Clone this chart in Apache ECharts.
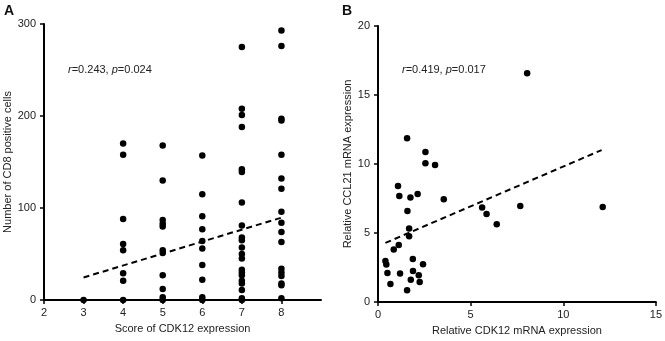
<!DOCTYPE html>
<html>
<head>
<meta charset="utf-8">
<script src="https://cdn.jsdelivr.net/npm/echarts@6/dist/echarts.min.js"></script>
<style>
	html,body{margin:0;padding:0;background:#fff;}
	#main{width:665px;height:341px;}
</style>
</head>
<body>
<div id="main"></div>
<script>
// panel A: score of CDK12 vs number of CD8 positive cells
var aScore=[3,
	4,4,4,4,4,4,4,4,
	5,5,5,5,5,5,5,5,5,5,5,
	6,6,6,6,6,6,6,6,6,6,
	7,7,7,7,7,7,7,7,7,7,7,7,7,7,7,7,7,7,7,7,7,
	8,8,8,8,8,8,8,8,8,8,8,8,8,8,8,8,8];
var aCells=[0,
	170,158,88,61,54,29,21,0,
	168,130,87,83,80,54,51,27,12,3,0,
	157,115,91,77,64,56,38,22,3,0,
	275,208,201,188,142,139,106,81,68,65,57,50,45,33,30,27,21,18,11,2,0,
	293,276,197,195,158,132,121,96,84,74,63,34,30,26,18,16,2];
var aFitX=[3,8];
var aFitY=[24.5,89.5];
var aTicks=[2,3,4,5,6,7,8];
var aNote=['0.243','0.024'];

// panel B: relative CDK12 vs CCL21 mRNA
var bCdk12=[8.05,1.57,2.56,2.56,3.08,1.08,1.15,1.75,2.14,3.55,1.59,5.62,5.86,6.41,7.68,12.13,
	1.68,1.68,1.12,0.85,0.40,0.45,0.51,0.67,1.19,1.88,1.89,2.43,2.20,1.77,2.25,1.57];
var bCcl21=[16.57,11.86,10.87,10.05,9.93,8.41,7.68,7.58,7.83,7.44,6.59,6.84,6.38,5.63,6.96,6.88,
	5.32,4.76,4.13,3.80,2.97,2.71,2.10,1.30,2.06,3.12,2.25,2.73,1.93,1.62,1.45,0.85];
var bFitX=[0.4,12.07];
var bFitY=[4.28,11.01];
var bNote=['0.419','0.017'];

var font='Liberation Sans';
var txtColor='#222';

function pairs(xs,ys){
	var out=[];
	for(var i=0;i<xs.length;i++){
		out.push([xs[i],ys[i]]);
	}
	return out;
}

function axisStyle(o){
	o.axisLine={show:true,onZero:false,lineStyle:{color:'#000',width:2}};
	o.axisTick=o.axisTick||{};
	o.axisTick.show=true;
	o.axisTick.length=4;
	o.axisTick.lineStyle={color:'#000',width:1.5};
	o.axisLabel=o.axisLabel||{};
	o.axisLabel.color=txtColor;
	o.axisLabel.fontSize=11;
	o.axisLabel.fontFamily=font;
	o.splitLine={show:false};
	o.nameLocation='middle';
	o.nameTextStyle={color:txtColor,fontSize:11,fontFamily:font};
	return o;
}

function note(left,vals){
	return {
		type:'text',left:left,top:64,
		style:{
			text:'{i|r}=' + vals[0] + ', {i|p}=' + vals[1],
			fill:txtColor,font:'11px "Liberation Sans"',
			rich:{i:{fontStyle:'italic',fontSize:11,fontFamily:font,fill:txtColor}}
		}
	};
}

var myChart=echarts.init(document.getElementById('main'));
var option={
	backgroundColor:'#fff',
	animation:false,
	grid:[
		{left:44,top:24,width:277,height:276},
		{left:378,top:26,width:278,height:276}
	],
	xAxis:[
		axisStyle({gridIndex:0,type:'value',min:2,max:9,interval:1,name:'Score of CDK12 expression',nameGap:23,
			axisTick:{customValues:aTicks},axisLabel:{customValues:aTicks,margin:7}}),
		axisStyle({gridIndex:1,type:'value',min:0,max:15,interval:5,name:'Relative CDK12 mRNA expression',nameGap:23,
			axisLabel:{margin:7}})
	],
	yAxis:[
		axisStyle({gridIndex:0,type:'value',min:0,max:300,interval:100,name:'Number of CD8 positive cells',nameGap:28}),
		axisStyle({gridIndex:1,type:'value',min:0,max:20,interval:5,name:'Relative CCL21 mRNA expression',nameGap:24})
	],
	graphic:[
		{type:'text',left:4,top:4,style:{text:'A',fill:'#111',font:'bold 14px "Liberation Sans"'}},
		{type:'text',left:342,top:4,style:{text:'B',fill:'#111',font:'bold 14px "Liberation Sans"'}},
		note(68,aNote),
		note(402,bNote)
	],
	series:[
		{type:'scatter',xAxisIndex:0,yAxisIndex:0,data:pairs(aScore,aCells),symbolSize:6.5,
			itemStyle:{color:'#000',opacity:1},z:3},
		{type:'line',xAxisIndex:0,yAxisIndex:0,data:pairs(aFitX,aFitY),symbol:'none',
			lineStyle:{color:'#000',width:2,type:[6,4]},z:2},
		{type:'scatter',xAxisIndex:1,yAxisIndex:1,data:pairs(bCdk12,bCcl21),symbolSize:6.5,
			itemStyle:{color:'#000',opacity:1},z:3},
		{type:'line',xAxisIndex:1,yAxisIndex:1,data:pairs(bFitX,bFitY),symbol:'none',
			lineStyle:{color:'#000',width:2,type:[6,4]},z:2}
	]
};
myChart.setOption(option);
</script>
</body>
</html>
